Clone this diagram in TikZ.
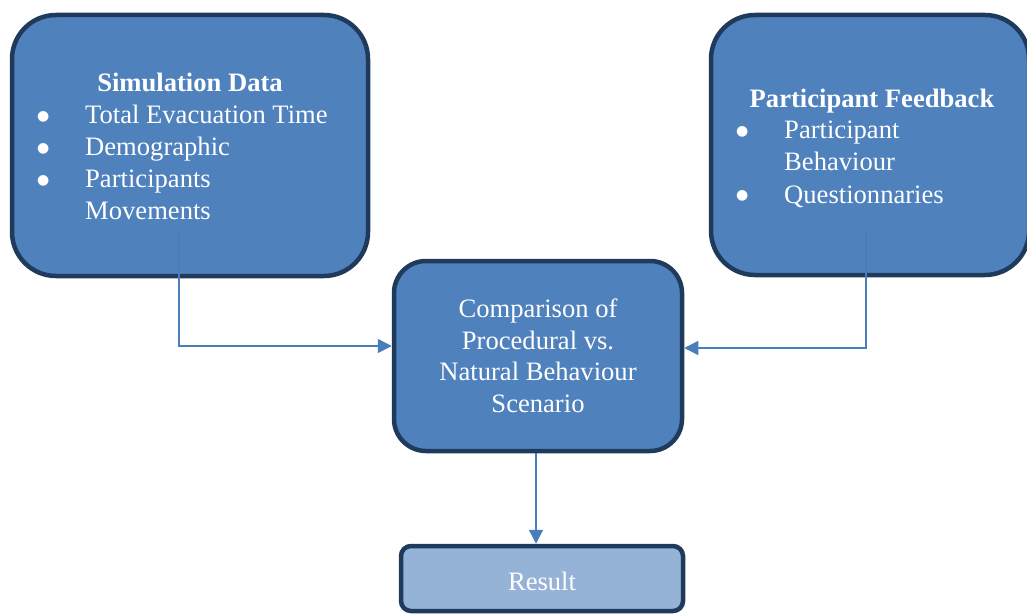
\documentclass[tikz,border=0pt]{standalone}
\usepackage{fontspec}
\setmainfont{Liberation Serif}
\newfontfamily\dotfont{DejaVu Sans}
\usetikzlibrary{arrows.meta}
\definecolor{boxblue}{HTML}{4F81BD}
\definecolor{boxedge}{HTML}{203A5C}
\definecolor{paleblue}{HTML}{95B3D7}
\definecolor{linkblue}{HTML}{4A7EBB}
\newcommand{\itemdot}{\raisebox{3.5pt}{\dotfont\fontsize{14}{14}\selectfont ●}}
\newcommand{\itemrow}[1]{\itemdot & #1}
\begin{document}
\begin{tikzpicture}[x=1pt, y=-1pt,
    % Styles des boites
    bigbox/.style={rectangle, rounded corners=44pt, draw=boxedge, fill=boxblue,
                   line width=4.5pt},
    midbox/.style={rectangle, rounded corners=32pt, draw=boxedge, fill=boxblue,
                   line width=4.5pt, text=white, align=center,
                   font=\fontsize{26.6}{31.5}\selectfont},
    endbox/.style={rectangle, rounded corners=10pt, draw=boxedge, fill=paleblue,
                   line width=4.5pt, text=white, font=\fontsize{26.6}{31.5}\selectfont},
    % Style des textes
    title/.style={text=white, inner sep=0pt, font=\fontsize{26.6}{32}\selectfont\bfseries},
    items/.style={text=white, inner sep=0pt, font=\fontsize{26.6}{32}\selectfont},
    % Style des fleches
    link/.style={-{Triangle[length=14pt, width=14pt]}, line width=1.5pt, color=linkblue}
]
\useasboundingbox (0,0) rectangle (1027,615);

% Simulation (gauche)
\node[bigbox, minimum width=356pt, minimum height=261pt] (simdata) at (190,145.5) {};
\node[title, anchor=base] (simtitle) at (190,92) {Simulation Data};
\node[items, anchor=base west] (simlist) at (37,124) {%
  \begin{tabular}[t]{@{}p{48pt}@{}l@{}}
  \itemrow{Total Evacuation Time}\\
  \itemrow{Demographic}\\
  \itemrow{Participants}\\
  & Movements
  \end{tabular}};

% Feedback (droite)
\node[bigbox, minimum width=318pt, minimum height=260pt] (feedback) at (870,145) {};
\node[title, anchor=base] (fbtitle) at (872,107) {Participant Feedback};
\node[items, anchor=base west] (fblist) at (736,139) {%
  \begin{tabular}[t]{@{}p{48pt}@{}l@{}}
  \itemrow{Participant}\\
  & Behaviour\\
  \itemrow{Questionnaries}
  \end{tabular}};

% Comparaison (centre)
\node[midbox, minimum width=288pt, minimum height=190pt] (compare) at (538,356)
  {Comparison of\\Procedural vs.\\Natural Behaviour\\Scenario};

% Resultat (bas)
\node[endbox, minimum width=282pt, minimum height=65pt, text height=23pt, text depth=0pt]
  (result) at (542,578.5) {Result};

% Fleches
\coordinate (simout) at (179,230);
\coordinate (fbout) at (866,232);
\draw[link] (simout) |- ([yshift=10pt]compare.west);
\draw[link] (fbout) |- ([yshift=8pt]compare.east);
\draw[link] ([xshift=-2pt]compare.south) -- ([xshift=-2pt]compare.south |- result.north);

\end{tikzpicture}
\end{document}
